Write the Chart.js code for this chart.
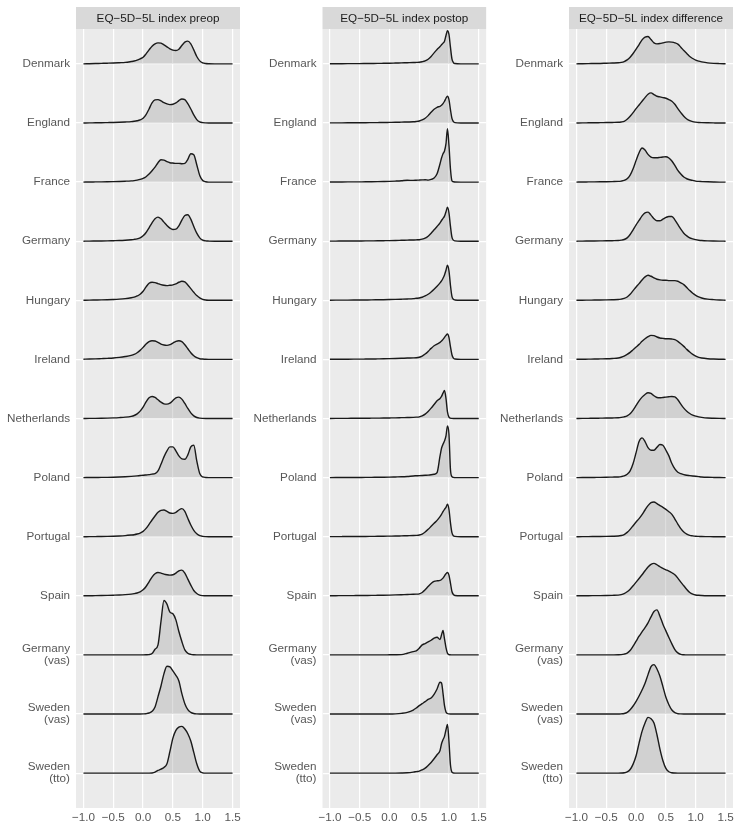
<!DOCTYPE html>
<html>
<head>
<meta charset="utf-8">
<script src="https://cdn.jsdelivr.net/npm/chart.js@4.4.1/dist/chart.umd.min.js"></script>
<style>
  html, body { margin: 0; padding: 0; background: #ffffff; }
  #wrap { position: relative; width: 740px; height: 833px; }
  canvas { position: absolute; top: 0; }
</style>
</head>
<body>
<div id="wrap">
  <canvas id="preopChart" width="245" height="833" style="left:0px"></canvas>
  <canvas id="postopChart" width="245" height="833" style="left:245px"></canvas>
  <canvas id="diffChart" width="250" height="833" style="left:490px"></canvas>
</div>
<script>
// ---- data (densities, relative units) ----
const countries = ['Denmark', 'England', 'France', 'Germany', 'Hungary', 'Ireland', 'Netherlands',
  'Poland', 'Portugal', 'Spain', 'Germany (vas)', 'Sweden (vas)', 'Sweden (tto)'];

const panelTitles = ['EQ\u22125D\u22125L index preop', 'EQ\u22125D\u22125L index postop', 'EQ\u22125D\u22125L index difference'];

const xTicks = [-1.0, -0.5, 0.0, 0.5, 1.0, 1.5];

const preopX = [-1, -0.9, -0.8, -0.7, -0.6, -0.5, -0.4, -0.3, -0.2,
  -0.15, -0.1, -0.05, 0, 0.05, 0.1, 0.15, 0.2, 0.25, 0.3, 0.35, 0.4, 0.45, 0.5, 0.55, 0.6,
  0.65, 0.7, 0.75, 0.8, 0.85, 0.9, 0.95, 1.0, 1.05, 1.1,
  1.2, 1.3, 1.4, 1.5];

const preopDensity = [
  [0, 0.5, 1, 1.5, 2, 2.6, 3.5, 4.5, 7, 8.5, 11, 15, 20, 30, 42, 53, 60, 63, 62, 57, 51, 45, 41, 40, 44, 55, 65, 68, 60, 42, 22, 9, 3, 1, 0.3, 0, 0, 0, 0],
  [0, 0.3, 0.5, 0.8, 1.2, 1.6, 2.2, 3, 4, 5, 6.5, 9, 14, 25, 42, 60, 69, 70, 66, 61, 57, 55, 56, 60, 67, 72, 70, 58, 42, 24, 10, 3, 1, 0.3, 0, 0, 0, 0, 0],
  [0, 0.3, 0.5, 0.7, 1, 1.4, 1.9, 2.6, 3.6, 4.5, 6, 8, 11, 16, 24, 34, 45, 58, 67, 66, 61, 58, 57, 56, 56, 55, 56, 68, 85, 82, 52, 20, 5, 1, 0, 0, 0, 0, 0],
  [0, 0.3, 0.5, 0.7, 1, 1.5, 2, 3, 4.5, 5.5, 7, 10, 16, 26, 40, 55, 67, 72, 67, 57, 47, 39, 35, 36, 46, 63, 77, 79, 66, 44, 24, 10, 3, 1, 0.3, 0, 0, 0, 0],
  [0, 0.5, 0.9, 1.3, 1.8, 2.5, 3.5, 5, 7.5, 9.5, 13, 18, 27, 40, 51, 54, 53, 50, 47, 45, 44, 45, 46, 49, 54, 57, 55, 46, 35, 24, 14, 7, 3, 1, 0.3, 0, 0, 0, 0],
  [0.5, 1, 1.6, 2.4, 3.2, 4.2, 6, 8.5, 12, 15, 20, 27, 36, 46, 53, 56, 55, 51, 46, 43, 42, 44, 49, 54, 56, 53, 44, 32, 20, 11, 5, 2, 1, 0.3, 0, 0, 0, 0, 0],
  [0, 0.3, 0.5, 0.8, 1.2, 1.8, 2.7, 4, 6.5, 9, 14, 22, 34, 50, 62, 66, 63, 56, 49, 44, 43, 46, 54, 62, 64, 58, 45, 30, 17, 8, 3, 1, 0.3, 0, 0, 0, 0, 0, 0],
  [0, 0.2, 0.4, 0.6, 0.8, 1.2, 1.8, 2.7, 3.8, 4.5, 5.3, 6.2, 7, 8, 9, 10.5, 12, 20, 40, 62, 80, 92, 92, 80, 65, 56, 55, 68, 92, 97, 50, 12, 2, 0.5, 0, 0, 0, 0, 0],
  [0, 0.2, 0.4, 0.6, 1, 1.5, 2.2, 3.3, 5, 6, 8, 11, 16, 25, 37, 50, 62, 73, 79, 80, 76, 71, 70, 73, 80, 84, 76, 55, 35, 19, 9, 3, 1, 0.3, 0, 0, 0, 0, 0],
  [0, 0.3, 0.5, 0.8, 1.2, 1.8, 2.5, 3.6, 5.2, 6.5, 8.5, 12, 18, 28, 42, 56, 66, 70, 68, 65, 63, 62, 63, 68, 75, 77, 68, 50, 32, 16, 7, 2, 0.5, 0, 0, 0, 0, 0, 0],
  [0, 0, 0, 0, 0, 0, 0, 0, 0, 0, 0, 0, 0.2, 0.5, 1, 4, 17, 30, 100, 163, 152, 128, 123, 105, 70, 40, 15, 5, 1.5, 0.3, 0, 0, 0, 0, 0, 0, 0, 0, 0],
  [0, 0, 0, 0, 0, 0, 0, 0, 0, 0, 0, 0, 0.3, 1, 3, 8, 21, 52, 84, 121, 143, 141, 129, 116, 99, 61, 31, 13, 5, 1.5, 0.3, 0, 0, 0, 0, 0, 0, 0, 0],
  [0, 0, 0, 0, 0, 0, 0, 0, 0, 0, 0, 0, 0, 0, 0, 0.5, 3, 8, 12, 17, 28, 65, 105, 128, 138, 140, 132, 118, 96, 62, 28, 6, 1, 0, 0, 0, 0, 0, 0]
];

const postopX = [-1, -0.9, -0.8, -0.7, -0.6, -0.5, -0.4, -0.3, -0.2, -0.1, 0, 0.1, 0.2, 0.3, 0.4,
  0.45, 0.5, 0.55, 0.6, 0.65, 0.7, 0.75, 0.8, 0.85,
  0.875, 0.9, 0.925, 0.95, 0.975, 1.0, 1.025, 1.05, 1.075, 1.1,
  1.2, 1.3, 1.4, 1.5];

const postopDensity = [
  [0.3, 0.4, 0.5, 0.6, 0.7, 0.8, 1, 1.2, 1.4, 1.7, 2, 2.5, 3, 3.5, 4, 4.5, 5, 6.5, 9, 14, 22, 33, 43, 52, 57, 62, 68, 85, 99, 88, 50, 15, 4, 1, 0, 0, 0, 0],
  [0.2, 0.3, 0.4, 0.5, 0.6, 0.7, 0.8, 1, 1.2, 1.4, 1.7, 2, 2.5, 3, 3.5, 4.5, 6, 9, 14, 22, 32, 41, 47, 50, 53, 58, 65, 74, 80, 70, 40, 14, 4, 1, 0, 0, 0, 0],
  [0.2, 0.3, 0.4, 0.5, 0.6, 0.7, 0.8, 1, 1.3, 1.7, 2.2, 3, 4, 5.5, 5, 5.5, 6, 6.5, 7, 6, 8, 12, 25, 55, 72, 85, 93, 115, 160, 110, 40, 4, 1, 0.3, 0, 0, 0, 0],
  [0.2, 0.3, 0.4, 0.5, 0.6, 0.7, 0.8, 1, 1.2, 1.5, 1.8, 2.2, 2.7, 3.2, 3.7, 4, 4.5, 6, 9, 15, 24, 34, 44, 55, 62, 68, 75, 88, 102, 85, 45, 12, 3, 1, 0, 0, 0, 0],
  [0.3, 0.4, 0.5, 0.6, 0.7, 0.8, 1, 1.2, 1.5, 1.8, 2.2, 2.7, 3.3, 4, 5, 6, 7, 9, 13, 18, 25, 33, 42, 52, 58, 66, 76, 90, 105, 88, 45, 12, 3, 1, 0, 0, 0, 0],
  [0.3, 0.4, 0.5, 0.6, 0.7, 0.8, 1, 1.2, 1.5, 1.8, 2.2, 2.7, 3.3, 4, 4.5, 5, 6.5, 10, 16, 24, 33, 41, 46, 51, 55, 60, 66, 72, 76, 66, 38, 14, 4, 1, 0, 0, 0, 0],
  [0.2, 0.3, 0.4, 0.5, 0.6, 0.7, 0.8, 1, 1.2, 1.4, 1.7, 2, 2.5, 3, 3.5, 4, 5, 8, 13, 21, 31, 42, 53, 60, 66, 76, 84, 60, 20, 4, 1, 0.3, 0, 0, 0, 0, 0, 0],
  [0, 0.1, 0.2, 0.3, 0.4, 0.5, 0.6, 0.8, 1, 1.2, 1.5, 2, 2.5, 3.5, 5, 5.5, 6, 6.5, 7, 7.5, 8.5, 10, 15, 65, 88, 100, 110, 125, 155, 130, 25, 3, 0.5, 0, 0, 0, 0, 0],
  [0.2, 0.3, 0.4, 0.5, 0.6, 0.7, 0.8, 1, 1.2, 1.4, 1.7, 2, 2.5, 3, 3.5, 4, 5, 8, 14, 22, 31, 40, 49, 60, 67, 75, 82, 88, 97, 82, 42, 12, 3, 1, 0, 0, 0, 0],
  [0.3, 0.4, 0.5, 0.6, 0.7, 0.8, 1, 1.2, 1.5, 1.8, 2.2, 2.7, 3.3, 4, 4.5, 5, 6, 10, 18, 28, 37, 43, 45, 46, 49, 53, 60, 66, 70, 62, 38, 13, 4, 1, 0, 0, 0, 0],
  [0, 0, 0, 0, 0, 0, 0, 0, 0, 0, 0.3, 0.5, 1, 5, 10, 12, 20, 30, 34, 39, 44, 50, 53, 46, 60, 73, 48, 22, 5, 1, 0.3, 0, 0, 0, 0, 0, 0, 0],
  [0, 0, 0, 0, 0, 0, 0, 0, 0, 0, 0, 0.5, 2, 5, 12, 18, 25, 31, 37, 44, 48, 59, 75, 95, 93, 62, 25, 6, 1.5, 0.3, 0, 0, 0, 0, 0, 0, 0, 0],
  [0, 0, 0, 0, 0, 0, 0, 0, 0, 0, 0, 0, 0.3, 1, 3, 4.5, 6, 10, 15, 23, 32, 43, 55, 68, 88, 100, 110, 130, 146, 95, 25, 3, 0.5, 0, 0, 0, 0, 0]
];

const diffX = [-1, -0.9, -0.8, -0.7, -0.6, -0.5, -0.4,
  -0.3, -0.25, -0.2, -0.15, -0.1, -0.05, 0, 0.05, 0.1, 0.15, 0.2, 0.25, 0.3, 0.35, 0.4,
  0.45, 0.5, 0.55, 0.6, 0.65, 0.7, 0.75, 0.8, 0.85, 0.9, 0.95, 1.0, 1.05, 1.1,
  1.2, 1.3, 1.4, 1.5];

const diffDensity = [
  [0, 0.5, 0.8, 1, 1.3, 2, 2.6, 3.3, 4.5, 7, 12, 20, 31, 44, 58, 72, 80, 82, 73, 63, 60, 61, 63, 65, 66, 65, 63, 59, 50, 40, 31, 22, 16, 11, 8, 6, 3, 1.5, 0.8, 0.3],
  [0, 0.3, 0.5, 0.7, 1, 1.3, 1.6, 2, 3, 5, 11, 20, 31, 43, 54, 65, 76, 86, 90, 85, 80, 78, 76, 74, 70, 65, 56, 43, 31, 20, 12, 7, 4, 2.5, 1.5, 1, 0.5, 0.2, 0, 0],
  [0, 0.3, 0.5, 0.7, 0.9, 1.1, 1.5, 2, 3, 5, 10, 21, 40, 65, 88, 102, 96, 83, 75, 73, 73, 74, 75, 76, 72, 63, 50, 35, 24, 15, 10, 7, 5, 3, 2, 1.5, 0.8, 0.3, 0, 0],
  [0, 0.3, 0.5, 0.7, 0.9, 1.1, 1.5, 2, 3, 5, 10, 20, 34, 49, 62, 76, 85, 87, 78, 67, 61, 61, 66, 71, 74, 74, 64, 50, 36, 24, 16, 10, 7, 4.5, 3, 2, 1, 0.5, 0.2, 0],
  [0, 0.3, 0.5, 0.7, 0.9, 1.2, 1.6, 2.2, 3.5, 5.5, 10, 18, 29, 40, 50, 61, 70, 75, 72, 67, 63, 61, 60, 60, 59, 59, 59, 57, 52, 47, 38, 29, 21, 15, 10, 7, 3.5, 2, 1, 0.3],
  [0.3, 0.5, 0.8, 1, 1.5, 2, 2.8, 4, 6.5, 10, 15, 21, 29, 37, 45, 54, 62, 68, 72, 71, 67, 64, 63, 62, 62, 61, 59, 54, 47, 39, 30, 22, 15, 10, 6, 4, 2, 1, 0.5, 0.2],
  [0, 0.3, 0.5, 0.7, 1, 1.3, 1.7, 2.2, 3.2, 5, 8, 14, 25, 39, 53, 64, 72, 77, 75, 68, 63, 62, 63, 64, 65, 66, 65, 56, 43, 31, 22, 15, 10, 7, 5, 3.5, 1.5, 0.8, 0.3, 0],
  [0, 0.2, 0.3, 0.5, 0.7, 1, 1.5, 2, 3, 5, 10, 20, 42, 75, 108, 119, 108, 90, 82, 82, 91, 99, 97, 82, 65, 42, 26, 16, 12, 9, 7, 6, 5, 4, 3, 2, 1, 0.5, 0.2, 0],
  [0, 0.2, 0.3, 0.5, 0.7, 1, 1.4, 2, 3.5, 6.5, 13, 22, 33, 44, 54, 66, 80, 93, 102, 104, 99, 93, 88, 82, 75, 67, 53, 38, 24, 14, 8, 4, 2.5, 1.5, 1, 0.5, 0.3, 0, 0, 0],
  [0, 0.2, 0.3, 0.5, 0.7, 1, 1.4, 2, 3.5, 6.5, 12, 20, 30, 41, 52, 63, 75, 86, 94, 97, 93, 87, 82, 78, 74, 69, 63, 53, 41, 30, 19, 10, 5, 2.5, 1.5, 1, 0.3, 0, 0, 0],
  [0, 0, 0, 0, 0, 0, 0.2, 0.5, 1, 2.5, 5.5, 13, 26, 41, 56, 69, 82, 96, 114, 130, 135, 116, 92, 72, 52, 33, 16, 6, 1.5, 0.5, 0, 0, 0, 0, 0, 0, 0, 0, 0, 0],
  [0, 0, 0, 0, 0, 0, 0, 0, 0.5, 1.5, 5, 13, 24, 38, 54, 72, 92, 118, 142, 148, 135, 113, 82, 50, 28, 12, 4, 1, 0.3, 0, 0, 0, 0, 0, 0, 0, 0, 0, 0, 0],
  [0, 0, 0, 0, 0, 0, 0, 0, 0.3, 1, 3.5, 11, 27, 52, 90, 125, 150, 167, 163, 150, 115, 72, 37, 14, 4, 1, 0.3, 0, 0, 0, 0, 0, 0, 0, 0, 0, 0, 0, 0, 0]
];

// one ridge row = this many density units
const ridgeScale = 1 / 177;

const FONT = '"Liberation Sans", Arial, Helvetica, sans-serif';
const TEXT_COL = '#575757';

// panel background + facet strip
const panelDecor = {
    id: 'panelDecor',
    beforeDraw(chart, args, opts) {
        const { ctx, chartArea: a } = chart;
        ctx.save();
        ctx.fillStyle = '#ebebeb';
        ctx.fillRect(a.left, a.top, a.right - a.left, a.bottom - a.top);
        ctx.fillStyle = '#d9d9d9';
        ctx.fillRect(a.left, a.top - 22, a.right - a.left, 22);
        ctx.fillStyle = '#1a1a1a';
        ctx.font = '11.7px ' + FONT;
        ctx.textAlign = 'center';
        ctx.textBaseline = 'middle';
        ctx.fillText(opts.title, (a.left + a.right) / 2, a.top - 10.5);
        ctx.restore();
    }
};

function makeRidgeChart(canvasId, title, xs, densities, axisWidth, padRight) {
    const canvas = document.getElementById(canvasId);
    if (!canvas) return null;
    const n = countries.length;

    const datasets = countries.map((name, i) => {
        const base = n - i;
        return {
            label: name,
            data: xs.map((x, j) => ({ x: x, y: base + densities[i][j] * ridgeScale })),
            borderColor: '#1a1a1a',
            borderWidth: 1.4,
            backgroundColor: 'rgba(160,160,160,0.35)',
            fill: { value: base },
            pointRadius: 0,
            cubicInterpolationMode: 'monotone',
            order: base
        };
    });

    return new Chart(canvas.getContext('2d'), {
        type: 'line',
        data: { datasets: datasets },
        plugins: [panelDecor],
        options: {
            responsive: false,
            animation: false,
            layout: { padding: { top: 29, right: padRight, left: 0, bottom: 0 } },
            scales: {
                x: {
                    type: 'linear',
                    min: -1.125,
                    max: 1.625,
                    afterBuildTicks: s => { s.ticks = xTicks.map(v => ({ value: v })); },
                    afterFit: s => { s.height = 25; },
                    grid: { color: '#ffffff', lineWidth: 1.2, drawTicks: false },
                    border: { display: false },
                    ticks: {
                        autoSkip: false,
                        maxRotation: 0,
                        padding: 3,
                        color: TEXT_COL,
                        font: { family: FONT, size: 11.7 },
                        callback: v => v.toFixed(1).replace('-', '\u2212')
                    }
                },
                y: {
                    type: 'linear',
                    min: 0.41,
                    max: 13.59,
                    afterBuildTicks: s => { s.ticks = countries.map((c, i) => ({ value: n - i })); },
                    afterFit: s => { s.width = axisWidth; },
                    grid: { color: '#ffffff', lineWidth: 1.2, drawTicks: false },
                    border: { display: false },
                    ticks: {
                        autoSkip: false,
                        padding: 6,
                        color: TEXT_COL,
                        font: { family: FONT, size: 11.7, lineHeight: 1.05 },
                        callback: v => {
                            const name = countries[n - Math.round(v)];
                            return name.includes(' (') ? name.split(' ') : name;
                        }
                    }
                }
            },
            plugins: {
                legend: { display: false },
                tooltip: { enabled: false },
                panelDecor: { title: title }
            }
        }
    });
}

makeRidgeChart('preopChart', panelTitles[0], preopX, preopDensity, 76, 5);
makeRidgeChart('postopChart', panelTitles[1], postopX, postopDensity, 77.5, 3.5);
makeRidgeChart('diffChart', panelTitles[2], diffX, diffDensity, 79, 7);
</script>
</body>
</html>
